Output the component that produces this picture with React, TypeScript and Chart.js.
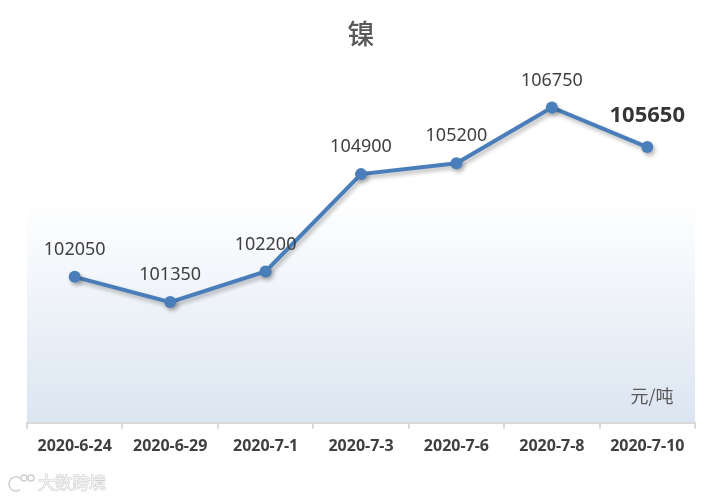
import React, { useEffect, useRef } from "react";
import { Chart, registerables } from "chart.js";

Chart.register(...registerables);

const title = "镍";
const unitLabel = "元/吨";
const watermark = "大数跨境";
const categories = ["2020-6-24", "2020-6-29", "2020-7-1", "2020-7-3", "2020-7-6", "2020-7-8", "2020-7-10"];
const prices = [102050, 101350, 102200, 104900, 105200, 106750, 105650];
const yMin = 98000;
const yMax = 108000;

const bgPlugin = {
  id: "bgGradient",
  beforeDraw(chart: any) {
    const { ctx, chartArea } = chart;
    const { left, right, top, bottom } = chartArea;
    const gTop = top + (bottom - top) * 0.38;
    const g = ctx.createLinearGradient(0, gTop, 0, bottom);
    g.addColorStop(0, "rgba(255,255,255,1)");
    g.addColorStop(1, "#dbe5f1");
    ctx.save();
    ctx.fillStyle = g;
    ctx.fillRect(left, gTop, right - left, bottom - gTop);
    ctx.restore();
  },
};

const shadowPlugin = {
  id: "lineShadow",
  beforeDatasetsDraw(chart: any) {
    const ctx = chart.ctx;
    ctx.save();
    ctx.shadowColor = "rgba(0,0,0,0.28)";
    ctx.shadowBlur = 4;
    ctx.shadowOffsetX = 2;
    ctx.shadowOffsetY = 3;
  },
  afterDatasetsDraw(chart: any) {
    chart.ctx.restore();
  },
};

const labelPlugin = {
  id: "valueLabels",
  afterDraw(chart: any) {
    const { ctx, chartArea } = chart;
    const meta = chart.getDatasetMeta(0);
    const data = chart.data.datasets[0].data as number[];
    ctx.save();
    ctx.textAlign = "center";
    ctx.textBaseline = "middle";
    meta.data.forEach((pt: any, i: number) => {
      const last = i === data.length - 1;
      ctx.font = last ? "bold 22px 'Noto Sans'" : "18px 'Noto Sans'";
      ctx.fillStyle = last ? "#363636" : "#404040";
      ctx.fillText(String(data[i]), pt.x, pt.y - (last ? 31 : 27));
    });
    // unit
    ctx.font = "18px 'Noto Sans CJK SC'";
    ctx.fillStyle = "#595959";
    ctx.fillText(unitLabel, chartArea.right - 43, chartArea.bottom - 27);
    // watermark
    ctx.textAlign = "left";
    ctx.font = "17px 'Noto Sans CJK SC'";
    ctx.lineWidth = 1;
    ctx.strokeStyle = "#cfcfcf";
    ctx.fillStyle = "#f2f2f2";
    ctx.strokeText(watermark, 38, 483);
    ctx.fillText(watermark, 38, 483);
    ctx.lineWidth = 1.5;
    ctx.beginPath();
    ctx.arc(16, 484, 7, Math.PI * 0.3, Math.PI * 1.7);
    ctx.stroke();
    ctx.beginPath();
    ctx.arc(24, 478, 3, 0, Math.PI * 2);
    ctx.stroke();
    ctx.beginPath();
    ctx.arc(31, 478, 3, 0, Math.PI * 2);
    ctx.stroke();
    ctx.restore();
  },
};

export default function App() {
  const ref = useRef<HTMLCanvasElement | null>(null);
  useEffect(() => {
    document.body.style.margin = "0";
    if (!ref.current) return;
    const chart = new Chart(ref.current, {
      type: "line",
      data: {
        labels: categories,
        datasets: [
          {
            data: prices,
            borderColor: "#4a7ebb",
            backgroundColor: "#4a7ebb",
            borderWidth: 4,
            pointRadius: 6,
            pointHoverRadius: 6,
            pointBackgroundColor: "#4a7ebb",
            pointBorderWidth: 0,
            tension: 0,
          },
        ],
      },
      options: {
        animation: false,
        responsive: false,
        maintainAspectRatio: false,
        layout: { padding: { left: 27, right: 23, bottom: 33, top: 0 } },
        plugins: {
          legend: { display: false },
          tooltip: { enabled: false },
          title: {
            display: true,
            text: title,
            color: "#595959",
            font: { family: "'Noto Sans CJK SC'", size: 27, weight: 500, lineHeight: 1.2 },
            padding: { top: 18, bottom: 12 },
          },
        },
        scales: {
          x: {
            offset: true,
            grid: {
              offset: true,
              drawOnChartArea: false,
              drawTicks: true,
              tickLength: 6,
              color: "#d9d9d9",
              lineWidth: 2,
            },
            border: { display: true, color: "#d9d9d9", width: 2 },
            ticks: {
              color: "#404040",
              padding: 8,
              maxRotation: 0,
              autoSkip: false,
              font: { family: "'Noto Sans'", size: 16, weight: "bold", lineHeight: 1.2 },
            },
          },
          y: { display: false, min: yMin, max: yMax },
        },
      },
      plugins: [bgPlugin, shadowPlugin, labelPlugin],
    });
    return () => chart.destroy();
  }, []);
  return (
    <div style={{ width: 718, height: 497 }}>
      <canvas ref={ref} width={718} height={497} style={{ width: 718, height: 497, display: "block" }} />
    </div>
  );
}
